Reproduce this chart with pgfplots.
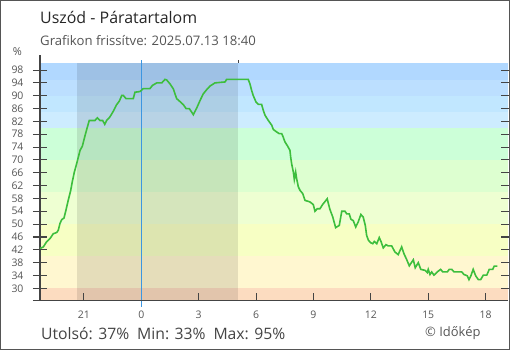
\documentclass[border=0pt]{standalone}
\usepackage{pgfplots}
\pgfplotsset{compat=1.18}
\usepackage{fontspec}
\setmainfont{Open Sans}
\definecolor{b1}{HTML}{B1D8FF}
\definecolor{b2}{HTML}{BCDFFF}
\definecolor{b3}{HTML}{C1E7FF}
\definecolor{b4}{HTML}{CDECFF}
\definecolor{g1}{HTML}{CCFFD8}
\definecolor{g2}{HTML}{DDFFD0}
\definecolor{g3}{HTML}{EEFFD2}
\definecolor{y1}{HTML}{F7FFC4}
\definecolor{y2}{HTML}{FFF7D0}
\definecolor{o1}{HTML}{FCDCC0}
\definecolor{axisgray}{HTML}{444444}
\definecolor{txtgray}{HTML}{555555}
\definecolor{linegreen}{HTML}{3DBE3D}
\definecolor{nightline}{RGB}{60,150,225}
\begin{document}
\begin{tikzpicture}
\useasboundingbox (-40bp,-49.5bp) rectangle (470bp,300.5bp);
\begin{axis}[
  at={(0,0)}, anchor=south west,
  scale only axis, width=468bp, height=237.5bp,
  xmin=-5.295, xmax=19.17, ymin=26.2, ymax=100.2,
  clip=false, axis on top,
  axis line style={draw=none},
  xtick={-3,0,3,6,9,12,15,18},
  xticklabels={21,0,3,6,9,12,15,18},
  ytick={30,34,...,98},
  tick align=center, major tick length=14bp,
  xtick style={draw=none},
  ytick style={axisgray, line width=1.1bp},
  /pgf/number format/assume math mode=true,
  ticklabel style={font=\fontsize{10.5}{12}\selectfont, text=txtgray},
  yticklabel style={anchor=east, xshift=-6bp},
]
% background bands
\fill[o1] (axis cs:-5.295,26.2) rectangle (axis cs:19.17,30);
\fill[y2] (axis cs:-5.295,30) rectangle (axis cs:19.17,40);
\fill[y1] (axis cs:-5.295,40) rectangle (axis cs:19.17,50);
\fill[g3] (axis cs:-5.295,50) rectangle (axis cs:19.17,60);
\fill[g2] (axis cs:-5.295,60) rectangle (axis cs:19.17,70);
\fill[g1] (axis cs:-5.295,70) rectangle (axis cs:19.17,80);
\fill[b4] (axis cs:-5.295,80) rectangle (axis cs:19.17,85);
\fill[b3] (axis cs:-5.295,85) rectangle (axis cs:19.17,90);
\fill[b2] (axis cs:-5.295,90) rectangle (axis cs:19.17,95);
\fill[b1] (axis cs:-5.295,95) rectangle (axis cs:19.17,100.2);
% night shading
\fill[black, opacity=0.1] (axis cs:-3.38,26.2) rectangle (axis cs:5.06,100.2);
% midnight line
\draw[draw=nightline, line width=1.3bp] ([yshift=-6.2bp]axis cs:0,26.2) -- ([yshift=3bp]axis cs:0,100.2);
% axis lines and x ticks
\draw[axisgray, line width=1.3bp] ([xshift=-7bp]axis cs:-5.295,26.2) -- (axis cs:19.17,26.2);
\draw[axisgray, line width=1.3bp] (axis cs:-5.295,26.2) -- ([yshift=8bp]axis cs:-5.295,100.2);
\draw[axisgray, line width=1bp] (axis cs:5.06,100.2) -- ([yshift=3bp]axis cs:5.06,100.2);
\pgfplotsinvokeforeach{-3,3,6,9,12,15,18}{
  \draw[axisgray, line width=1.1bp] (axis cs:#1,26.2) -- ([yshift=7.5bp]axis cs:#1,26.2);
}
\addplot[linegreen, line width=1.6bp] coordinates {
(-5.30,42.4) (-5.12,42.9) (-4.95,44.5) (-4.77,45.5) (-4.60,47.0) (-4.42,47.4)
(-4.34,48.1) (-4.25,50.2) (-4.16,51.4) (-4.04,51.9) (-3.94,54.3) (-3.82,57.4)
(-3.69,60.5) (-3.61,63.1) (-3.50,66.2) (-3.38,68.8) (-3.29,70.9) (-3.20,73.0)
(-3.08,74.3) (-2.94,77.6) (-2.82,80.2) (-2.72,82.3) (-2.42,82.3) (-2.30,83.1)
(-2.16,82.3) (-2.02,82.3) (-1.91,81.1) (-1.81,82.3) (-1.64,83.4) (-1.46,85.2)
(-1.29,87.2) (-1.15,88.3) (-1.02,90.1) (-0.94,90.1) (-0.80,89.1) (-0.42,89.1)
(-0.33,91.1) (-0.07,91.3) (0.10,92.2) (0.45,92.2) (0.58,93.2) (0.81,94.0)
(1.07,94.0) (1.24,95.1) (1.33,94.9) (1.50,93.7) (1.67,92.2) (1.76,90.6)
(1.85,89.1) (2.02,88.2) (2.20,87.2) (2.34,86.0) (2.51,86.0) (2.72,84.1)
(2.90,86.2) (3.07,88.5) (3.24,90.6) (3.42,91.9) (3.59,93.0) (3.85,94.0)
(4.38,94.3) (4.46,95.1) (5.59,95.1) (5.68,93.7) (5.77,91.6) (5.85,90.1)
(6.00,88.0) (6.12,87.3) (6.29,87.3) (6.38,85.4) (6.47,83.9) (6.64,82.3)
(6.82,80.8) (6.90,79.5) (7.08,78.7) (7.21,78.2) (7.34,78.2) (7.42,77.1)
(7.51,75.6) (7.63,74.5) (7.77,73.0) (7.81,70.9) (7.86,68.8) (7.95,66.2)
(8.00,63.9) (8.07,66.2) (8.12,64.2) (8.21,61.6) (8.30,60.5) (8.44,59.5)
(8.56,57.4) (8.82,56.9) (8.99,56.1) (9.08,54.0) (9.20,54.8) (9.34,54.8)
(9.48,56.1) (9.72,57.9) (9.78,56.4) (9.86,54.6) (10.01,52.2) (10.16,48.9)
(10.35,49.6) (10.48,54.0) (10.65,54.0) (10.74,53.2) (10.87,53.2) (10.96,51.5)
(11.08,51.1) (11.21,49.1) (11.34,50.7) (11.48,53.0) (11.60,52.2) (11.71,49.6)
(11.78,46.5) (11.87,45.0) (11.99,44.2) (12.10,43.9) (12.18,44.6) (12.31,43.9)
(12.44,45.8) (12.53,44.6) (12.65,42.6) (12.79,43.6) (12.91,43.2) (13.09,43.2)
(13.26,41.3) (13.43,40.5) (13.61,42.9) (13.73,40.8) (13.87,39.0) (14.01,37.0)
(14.22,38.9) (14.32,36.4) (14.48,38.0) (14.61,35.9) (14.83,35.6) (14.95,34.9)
(15.00,35.9) (15.09,34.3) (15.18,35.1) (15.30,34.1) (15.47,35.1) (15.65,35.9)
(15.76,35.1) (16.00,35.1) (16.10,35.9) (16.23,35.9) (16.35,35.1) (16.75,35.1)
(16.87,34.3) (17.04,33.9) (17.13,32.7) (17.23,33.9) (17.35,35.9) (17.48,33.9)
(17.62,32.7) (17.74,32.7) (17.88,34.1) (18.06,34.1) (18.19,35.9) (18.37,35.9)
(18.45,36.9) (18.61,36.9)
};
\end{axis}
% texts
\node[anchor=base west, inner sep=0pt, text=black!85, font=\fontsize{16}{19}\selectfont] at (0bp,276.5bp) {Uszód - Páratartalom};
\node[anchor=base west, inner sep=0pt, text=txtgray, font=\fontsize{13.2}{15}\selectfont] at (0bp,254.8bp) {Grafikon frissítve: 2025.07.13 18:40};
\node[inner sep=0pt, text=txtgray, font=\fontsize{11}{13}\selectfont] at (-22.5bp,248.5bp) {\%};
\node[anchor=base west, inner sep=0pt, text=axisgray, font=\fontsize{15.8}{18}\selectfont] at (1bp,-38.8bp) {Utolsó: 37\%\enspace Min: 33\%\enspace Max: 95\%};
\node[anchor=base west, inner sep=0pt, text=txtgray, font=\fontsize{13}{15}\selectfont] at (385bp,-35.5bp) {© Időkép};
% frame
\draw[txtgray, line width=1bp] (-39.5bp,-49bp) rectangle (469.5bp,300bp);
\end{tikzpicture}
\end{document}
